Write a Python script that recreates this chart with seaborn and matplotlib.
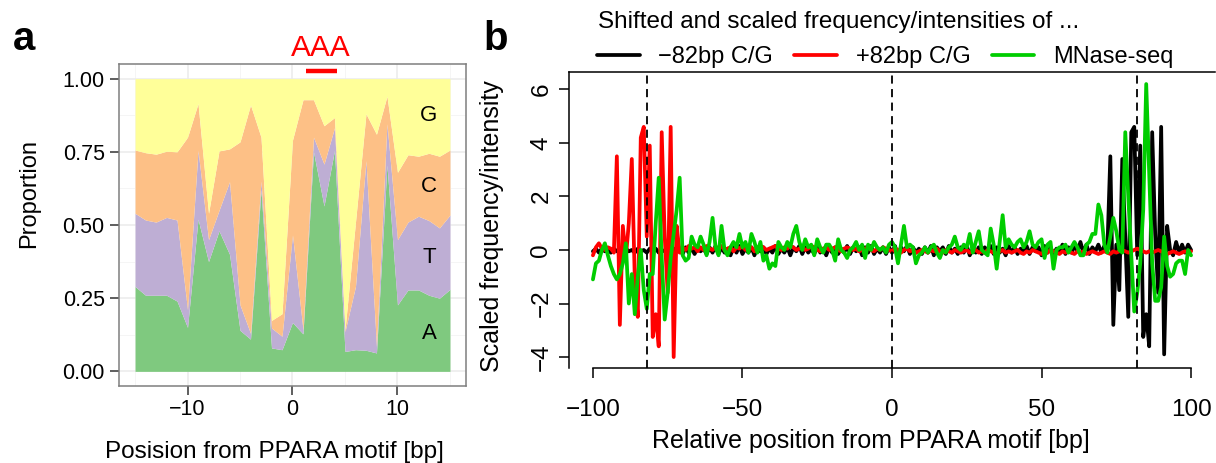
import numpy as np
import pandas as pd
import matplotlib
matplotlib.use("Agg")
import matplotlib.pyplot as plt
from matplotlib.lines import Line2D
import seaborn as sns

sns.set_style("white")
plt.rcParams["font.family"] = ["Liberation Sans", "DejaVu Sans"]
plt.rcParams["text.color"] = "black"
plt.rcParams["xtick.color"] = "black"
plt.rcParams["ytick.color"] = "black"
plt.rcParams["axes.labelcolor"] = "black"

# ---- panel a: base composition around the PPARA motif
pos_a = list(range(-15, 16))
prop_A = [0.290, 0.260, 0.260, 0.260, 0.240, 0.150, 0.520, 0.375, 0.480, 0.400,
          0.140, 0.110, 0.620, 0.080, 0.074, 0.167, 0.128, 0.750, 0.565, 0.755,
          0.068, 0.074, 0.072, 0.063, 0.705, 0.227, 0.278, 0.278, 0.260, 0.250, 0.280]
prop_T = [0.250, 0.257, 0.250, 0.266, 0.277, 0.060, 0.235, 0.075, 0.070, 0.248,
          0.087, 0.020, 0.030, 0.068, 0.046, 0.299, 0.014, 0.050, 0.143, 0.077,
          0.068, 0.216, 0.648, 0.022, 0.141, 0.223, 0.232, 0.252, 0.255, 0.240, 0.254]
prop_C = [0.216, 0.230, 0.232, 0.226, 0.233, 0.590, 0.160, 0.090, 0.203, 0.112,
          0.557, 0.780, 0.150, 0.026, 0.077, 0.324, 0.786, 0.128, 0.131, 0.035,
          0.006, 0.220, 0.160, 0.725, 0.094, 0.230, 0.230, 0.205, 0.230, 0.245, 0.222]
prop_G = [0.244, 0.253, 0.258, 0.248, 0.250, 0.200, 0.085, 0.460, 0.247, 0.240,
          0.216, 0.090, 0.200, 0.826, 0.803, 0.210, 0.072, 0.072, 0.161, 0.133,
          0.858, 0.490, 0.120, 0.190, 0.060, 0.320, 0.260, 0.265, 0.255, 0.265, 0.244]
bases = ["A", "T", "C", "G"]
motif_label = "AAA"
motif_span = [1.25, 4.2]

# ---- panel b: shifted and scaled signals
pos_b = list(range(-100, 101))
minus82 = [-0.05, 0.05, -0.1, 0.05, -0.05, 0.0, -0.1, 0.05, -0.05, 0.0,
           -0.1, 0.05, -0.05, 0.0, -0.1, 0.05, -0.05, 0.0, -0.1, 0.05,
           -0.05, 0.05, -0.1, 0.0, -0.05, 0.05, -0.1, 0.05, -0.05, 0.0,
           -0.15, 0.1, -0.1, 0.05, -0.15, 0.1, -0.05, 0.05, -0.15, 0.1,
           -0.1, 0.15, -0.15, 0.1, -0.1, 0.05, -0.2, 0.1, -0.1, 0.15,
           -0.15, 0.05, -0.1, 0.1, -0.2, 0.1, -0.05, 0.1, -0.15, 0.05,
           -0.1, 0.15, -0.15, 0.05, -0.1, 0.1, -0.2, 0.1, -0.05, 0.15,
           -0.15, 0.1, -0.1, 0.05, -0.15, 0.15, -0.1, 0.05, -0.2, 0.1,
           -0.1, 0.1, -0.15, 0.05, -0.1, 0.15, -0.15, 0.1, -0.05, 0.1,
           -0.2, 0.1, -0.1, 0.15, -0.15, 0.05, -0.1, 0.1, -0.15, 0.1,
           -0.1, 0.15, -0.2, 0.1, -0.05, 0.15, -0.15, 0.1, -0.1, 0.05,
           -0.15, 0.1, -0.1, 0.15, -0.2, 0.1, -0.05, 0.1, -0.15, 0.15,
           -0.1, 0.05, -0.15, 0.1, -0.1, 0.15, -0.2, 0.05, -0.1, 0.1,
           -0.15, 0.1, -0.05, 0.15, -0.15, 0.1, -0.1, 0.05, -0.2, 0.15,
           -0.1, 0.1, -0.15, 0.05, -0.1, 0.15, -0.15, 0.1, -0.05, 0.1,
           -0.2, 0.15, -0.1, 0.1, -0.15, 0.05, -0.1, 0.2, -0.15, 0.1,
           -0.1, 0.15, -0.05, 0.3, -0.1, 0.2, -0.15, 0.1, -0.05, 0.2,
           -0.1, 0.15, 0.0, 3.5, -2.8, 0.2, -1.5, 3.4, 0.4, -2.5,
           4.4, 4.6, -0.2, 3.9, -3.25, -2.4, -3.6, 4.4, 0.6, -1.6,
           4.6, -3.9, 0.9, 0.0, -0.2, 0.3, -0.1, 0.2, -0.1, 0.2, 0.0]
plus82 = [-0.2, 0.1, 0.25, 0.05, 0.0, 0.1, 0.05, -0.1, 3.5, -2.8,
          0.9, -0.3, 1.0, 3.4, -1.1, -2.5, 4.2, 4.6, 0.5, 3.9,
          -3.25, -2.4, -3.6, 4.4, 0.5, -1.6, 4.6, -4.0, 0.9, -0.1,
          0.1, 0.0, 0.15, 0.05, 0.1, -0.05, 0.1, 0.0, 0.15, 0.05,
          0.0, 0.1, 0.05, 0.15, 0.0, 0.05, 0.1, -0.05, 0.1, 0.05,
          0.15, 0.0, 0.05, 0.1, -0.05, 0.05, 0.15, 0.1, 0.0, 0.05,
          0.1, 0.15, 0.05, 0.0, 0.1, 0.05, 0.15, 0.1, 0.0, 0.05,
          0.1, 0.0, 0.05, 0.15, 0.1, 0.0, -0.05, 0.05, 0.1, 0.0,
          0.05, 0.1, 0.0, -0.05, 0.05, 0.1, 0.05, 0.0, 0.05, -0.05,
          0.0, 0.05, 0.1, 0.0, -0.05, 0.05, 0.0, 0.1, 0.05, 0.0,
          -0.05, 0.05, 0.0, -0.1, 0.0, 0.05, -0.05, 0.0, -0.1, -0.05,
          0.0, -0.05, -0.1, 0.0, -0.05, 0.05, -0.05, -0.1, 0.0, -0.05,
          -0.1, 0.0, -0.05, -0.1, -0.05, 0.0, -0.1, -0.05, 0.0, -0.1,
          -0.05, -0.1, 0.0, -0.05, -0.1, -0.15, -0.05, 0.0, -0.1, -0.05,
          -0.1, -0.05, 0.0, -0.1, -0.15, -0.05, -0.1, 0.0, -0.05, -0.1,
          -0.15, -0.05, -0.1, 0.0, -0.05, -0.1, -0.15, -0.05, -0.1, -0.05,
          -0.1, -0.15, -0.05, -0.1, -0.05, -0.15, -0.1, -0.05, -0.1, -0.15,
          -0.1, -0.05, -0.1, -0.15, -0.05, -0.1, -0.05, 0.0, -0.05, -0.1,
          -0.05, 0.0, 0.05, 0.0, -0.05, -0.1, -0.05, -0.1, -0.05, 0.0,
          -0.05, -0.1, -0.15, -0.1, -0.05, -0.1, -0.15, -0.1, -0.05, -0.1, -0.05]
mnase = [-1.1, -0.5, -0.4, 0.0, 0.25, -0.2, -0.6, -0.9, -1.1, -0.9,
         -0.5, 0.25, -2.0, -0.9, -2.4, -1.0, 0.0, -1.5, -2.2, -0.9,
         -0.9, 1.0, 2.7, -0.3, -2.6, -1.6, -0.3, 0.6, 1.5, 2.7,
         -0.2, -0.4, -0.3, 0.5, 0.2, 0.1, 0.5, 0.2, -0.2, 0.3,
         1.2, 0.1, -0.2, 0.9, 0.0, -0.2, 0.1, 0.3, 0.1, 0.6,
         0.1, 0.3, -0.1, 0.6, 0.3, -0.1, 0.3, -0.4, -0.2, -0.7,
         -0.5, -0.6, 0.3, 0.1, 0.0, 0.3, 0.1, 0.6, 0.9, 0.3,
         0.0, 0.4, 0.1, 0.2, -0.2, 0.4, 0.1, -0.1, 0.2, 0.2,
         0.0, -0.4, 0.4, 0.0, -0.1, -0.3, 0.0, 0.1, 0.3, 0.0,
         0.2, -0.3, 0.2, 0.0, 0.3, 0.1, 0.0, 0.1, -0.1, 0.2,
         0.3, 0.1, -0.5, 0.2, 0.9, 0.1, 0.2, 0.1, -0.5, -0.2,
         -0.1, 0.1, -0.1, 0.1, 0.2, -0.1, -0.3, 0.0, -0.1, 0.1,
         0.2, 0.5, 0.1, 0.0, 0.2, 0.1, 0.6, -0.1, 0.3, 0.7,
         0.0, -0.1, -0.2, 0.8, 0.2, -0.7, 0.3, 1.3, 0.1, 0.4,
         0.2, 0.1, 0.3, 0.4, 0.1, 0.3, 0.7, 0.2, 0.1, 0.3,
         0.4, -0.3, 0.2, 0.3, -0.7, 0.0, 0.1, 0.1, 0.2, -0.1,
         0.1, 0.3, 0.1, -0.2, -0.2, 0.2, 0.3, 0.6, 0.6, 1.7,
         1.3, 0.2, -0.1, 0.5, 1.2, 0.7, 0.0, -0.1, 4.4, 2.0,
         -0.2, -2.3, -1.6, -0.5, 1.5, 6.2, 2.8, -0.5, -1.9, -1.9,
         -1.4, 0.5, -0.6, -1.0, -0.9, -0.5, -0.4, -0.4, -0.9, 0.0, -0.2]
series_names = ["\u221282bp C/G", "+82bp C/G", "MNase-seq"]
series_colors = ["black", "#FF0000", "#00CD00"]
guide_lines = [-82, 0, 82]

W, H = 1216, 463
fig = plt.figure(figsize=(W / 100, H / 100), dpi=100)


def box(l, t, r, b):
    return [l / W, 1 - b / H, (r - l) / W, (b - t) / H]


# ================= panel a
ax1 = fig.add_axes(box(119.3, 64, 465.7, 386))
acc = sns.color_palette("Accent", 4)
ax1.set_axisbelow(True)
ax1.stackplot(pos_a, prop_A, prop_T, prop_C, prop_G, colors=acc, linewidth=0, zorder=2)
ax1.set_xlim(-16.5, 16.5)
ax1.set_ylim(-0.05, 1.05)
ax1.set_xticks([-10, 0, 10])
ax1.set_yticks([0, 0.25, 0.5, 0.75, 1.0])
ax1.set_yticklabels(["0.00", "0.25", "0.50", "0.75", "1.00"])
ax1.set_xticks([-15, -5, 5, 15], minor=True)
ax1.set_yticks([0.125, 0.375, 0.625, 0.875], minor=True)
ax1.grid(which="major", color="#EBEBEB", lw=1.1, zorder=0)
ax1.grid(which="minor", color="#F5F5F5", lw=0.7, zorder=0)
ax1.tick_params(which="major", direction="out", length=6.5, width=1.1, color="#333333",
                labelsize=15.5, labelcolor="black", left=True, bottom=True)
ax1.tick_params(axis="y", pad=4)
ax1.tick_params(axis="x", pad=3)
ax1.tick_params(which="minor", length=0)
for s in ax1.spines.values():
    s.set_color("#7F7F7F")
    s.set_linewidth(1.1)

# base labels, in the middle of each band at position 13
i13 = pos_a.index(13)
lower = 0
for base, vals in zip(bases, [prop_A, prop_T, prop_C, prop_G]):
    ax1.text(13, lower + vals[i13] / 2, base, ha="center", va="center", fontsize=16)
    lower += vals[i13]

ax1.plot(motif_span, [1.025, 1.025], color="#FF0000", lw=3.2, solid_capstyle="butt",
         clip_on=False, zorder=5)
ax1.text(sum(motif_span) / 2, 1.105, motif_label, color="#FF0000", fontsize=21.5,
         ha="center", va="center", clip_on=False)

fig.text(29 / W, 1 - 193 / H, "Proportion", rotation=90, ha="center", va="center", fontsize=17)
fig.text(274 / W, 1 - 452 / H, "Posision from PPARA motif [bp]", ha="center", va="center",
         fontsize=17.5)

# ================= panel b
ax2 = fig.add_axes(box(569, 72, 1215, 368))
df = pd.DataFrame({
    "pos": pos_b * 3,
    "value": minus82 + plus82 + mnase,
    "series": [n for n in series_names for _ in pos_b],
})
sns.lineplot(data=df, x="pos", y="value", hue="series", hue_order=series_names,
             palette=dict(zip(series_names, series_colors)), estimator=None,
             linewidth=2.7, legend=False, ax=ax2)
for g in guide_lines:
    ax2.axvline(g, color="black", lw=1.3, ls=(0, (4.5, 3)), zorder=4)
ax2.set_xlim(-108, 108)
ax2.set_ylim(-4.41, 6.65)
ax2.set_xlabel("")
ax2.set_ylabel("")
ax2.set_xticks([-100, -50, 0, 50, 100])
ax2.set_xticklabels(["\u2212100", "\u221250", "0", "50", "100"])
ax2.set_yticks([-4, -2, 0, 2, 4, 6])
ax2.set_yticklabels(["\u22124", "\u22122", "0", "2", "4", "6"], rotation=90, va="center")
ax2.tick_params(direction="out", length=7, width=1.1, color="black", labelsize=17.5,
                labelcolor="black", left=True, bottom=True)
ax2.tick_params(axis="x", pad=15)
ax2.tick_params(axis="y", pad=5)
for s in ax2.spines.values():
    s.set_color("black")
    s.set_linewidth(1.1)
ax2.spines["right"].set_visible(False)
ax2.spines["bottom"].set_bounds(-100, 100)

fig.text(492 / W, 1 - 226 / H, "Scaled frequency/intensity", rotation=90, ha="center",
         va="center", fontsize=18)
fig.text(871 / W, 1 - 441 / H, "Relative position from PPARA motif [bp]", ha="center",
         va="center", fontsize=18)

fig.text(598 / W, 1 - 22 / H, "Shifted and scaled frequency/intensities of ...",
         ha="left", va="center", fontsize=17.5)
handles = [Line2D([], [], color=c, lw=2.7) for c in series_colors]
fig.legend(handles, series_names, loc="center left", bbox_to_anchor=(597 / W, 1 - 57 / H),
           ncol=3, frameon=False, fontsize=17, handlelength=1.8, handletextpad=0.8,
           columnspacing=0.9, borderpad=0, borderaxespad=0)

fig.text(13 / W, 1 - 50 / H, "a", fontweight="bold", fontsize=29, ha="left", va="baseline")
fig.text(483 / W, 1 - 50 / H, "b", fontweight="bold", fontsize=29, ha="left", va="baseline")

fig.savefig("out.png", dpi=100)
